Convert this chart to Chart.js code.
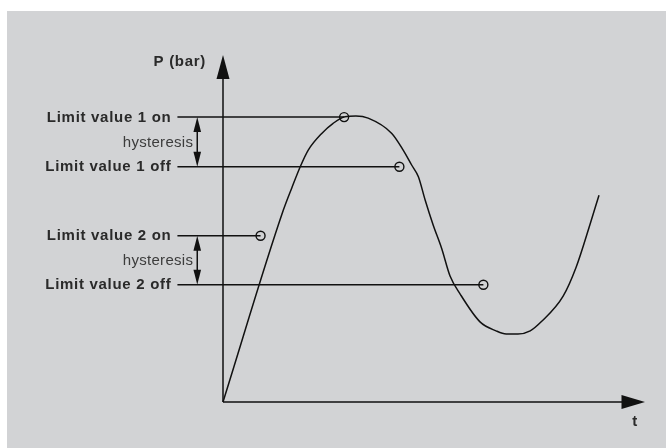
<!DOCTYPE html>
<html>
<head>
<meta charset="utf-8">
<script src="https://cdn.jsdelivr.net/npm/chart.js@4/dist/chart.umd.min.js"></script>
<style>
  html, body { margin: 0; padding: 0; background: #fff; }
  #panel { position: absolute; left: 7px; top: 11px; width: 659px; height: 437px; background: #d2d3d5; }
  canvas { display: block; }
</style>
</head>
<body>
<div id="panel"><canvas id="chart" width="659" height="437"></canvas></div>
<script>
// pressure curve over time (arbitrary units, axis runs 0..10 both ways)
const timeValues = [0, 1.43, 1.63, 1.83, 2.02, 2.34, 2.61, 2.89, 3.15, 3.44, 4.00, 4.27, 4.47, 4.63, 4.79, 4.98, 5.18, 5.38, 5.62, 6.09, 6.47, 6.71, 6.99, 7.28, 7.54, 8.06, 8.37, 8.70, 8.91];
const pressureValues = [0, 5.53, 6.17, 6.78, 7.26, 7.74, 8.03, 8.22, 8.24, 8.18, 7.74, 7.26, 6.83, 6.49, 5.82, 5.10, 4.43, 3.63, 3.11, 2.31, 2.05, 1.96, 1.96, 2.05, 2.31, 3.05, 3.89, 5.13, 5.96];

// switching thresholds
const limitNames = ["Limit value 1 on", "Limit value 1 off", "Limit value 2 on", "Limit value 2 off"];
const limitLevels = [8.21, 6.78, 4.79, 3.38];
const switchTimes = [2.87, 4.18, 0.89, 6.17];
const limitLineStart = -1.08;
const hysteresisPairs = [[0, 1], [2, 3]];
const hysteresisTime = -0.61;

const axisTitleY = "P (bar)";
const axisTitleX = "t";

const INK = "#111";

function arrowHead(ctx, x, y, dx, dy, len, half) {
  // tip at (x,y), pointing along (dx,dy)
  ctx.beginPath();
  ctx.moveTo(x, y);
  ctx.lineTo(x - dx * len - dy * half, y - dy * len + dx * half);
  ctx.lineTo(x - dx * len + dy * half, y - dy * len - dx * half);
  ctx.closePath();
  ctx.fill();
}

const diagramPlugin = {
  id: "diagram",
  beforeDatasetsDraw(chart) {
    const { ctx, scales: { x, y } } = chart;
    const x0 = x.getPixelForValue(0), y0 = y.getPixelForValue(0);
    const xEnd = x.getPixelForValue(x.max), yEnd = y.getPixelForValue(y.max);
    ctx.save();
    ctx.strokeStyle = INK;
    ctx.fillStyle = INK;
    ctx.lineWidth = 1.5;
    ctx.beginPath();
    ctx.moveTo(x0, y0); ctx.lineTo(x0, yEnd + 10);
    ctx.moveTo(x0, y0); ctx.lineTo(xEnd - 10, y0);
    ctx.stroke();
    arrowHead(ctx, x0, yEnd, 0, -1, 24, 6.5);
    arrowHead(ctx, xEnd, y0, 1, 0, 23.5, 7);
    ctx.restore();
  },
  afterDatasetsDraw(chart) {
    const { ctx, scales: { x, y } } = chart;
    const x0 = x.getPixelForValue(0), y0 = y.getPixelForValue(0);
    const xEnd = x.getPixelForValue(x.max), yEnd = y.getPixelForValue(y.max);
    const lineLeft = x.getPixelForValue(limitLineStart);
    ctx.save();

    // threshold labels
    ctx.fillStyle = "#2a2a2a";
    ctx.font = "bold 15px 'Liberation Sans', Arial, sans-serif";
    ctx.letterSpacing = "0.7px";
    ctx.textAlign = "right";
    ctx.textBaseline = "alphabetic";
    limitNames.forEach((name, i) => {
      ctx.fillText(name, lineLeft - 6, y.getPixelForValue(limitLevels[i]) + 4.5);
    });

    // axis titles
    ctx.fillText(axisTitleY, x0 - 17, yEnd + 11);
    ctx.textAlign = "center";
    ctx.fillText(axisTitleX, xEnd - 10, y0 + 24);

    // hysteresis double arrows
    const hx = x.getPixelForValue(hysteresisTime);
    ctx.strokeStyle = INK;
    ctx.fillStyle = INK;
    ctx.lineWidth = 1.5;
    hysteresisPairs.forEach(([a, b]) => {
      const ya = y.getPixelForValue(limitLevels[a]);
      const yb = y.getPixelForValue(limitLevels[b]);
      ctx.beginPath();
      ctx.moveTo(hx, ya + 8); ctx.lineTo(hx, yb - 8);
      ctx.stroke();
      arrowHead(ctx, hx, ya, 0, -1, 15, 3.8);
      arrowHead(ctx, hx, yb, 0, 1, 15, 3.8);
      ctx.fillStyle = "#3c3c3c";
      ctx.font = "15px 'Liberation Sans', Arial, sans-serif";
      ctx.letterSpacing = "0.3px";
      ctx.textAlign = "right";
      ctx.fillText("hysteresis", hx - 4, (ya + yb) / 2 + 4.7);
      ctx.fillStyle = INK;
    });
    ctx.restore();
  }
};

const datasets = [{
  label: "P",
  data: timeValues.map((t, i) => ({ x: t, y: pressureValues[i] })),
  showLine: true,
  borderColor: INK,
  borderWidth: 1.5,
  pointRadius: 0,
  cubicInterpolationMode: "monotone",
  clip: false,
}];

limitNames.forEach((name, i) => {
  datasets.push({
    label: name,
    data: [{ x: limitLineStart, y: limitLevels[i] }, { x: switchTimes[i], y: limitLevels[i] }],
    showLine: true,
    borderColor: INK,
    borderWidth: 1.5,
    pointRadius: [0, 4.5],
    pointStyle: "circle",
    pointBorderColor: INK,
    pointBorderWidth: 1.4,
    pointBackgroundColor: "rgba(0,0,0,0)",
    clip: false,
  });
});

new Chart(document.getElementById("chart"), {
  type: "scatter",
  data: { datasets },
  options: {
    responsive: false,
    animation: false,
    devicePixelRatio: 1,
    layout: { padding: { left: 216, right: 21, top: 44, bottom: 46 } },
    plugins: { legend: { display: false }, tooltip: { enabled: false } },
    scales: {
      x: { type: "linear", min: 0, max: 10, display: false },
      y: { type: "linear", min: 0, max: 10, display: false },
    },
  },
  plugins: [diagramPlugin],
});
</script>
</body>
</html>
